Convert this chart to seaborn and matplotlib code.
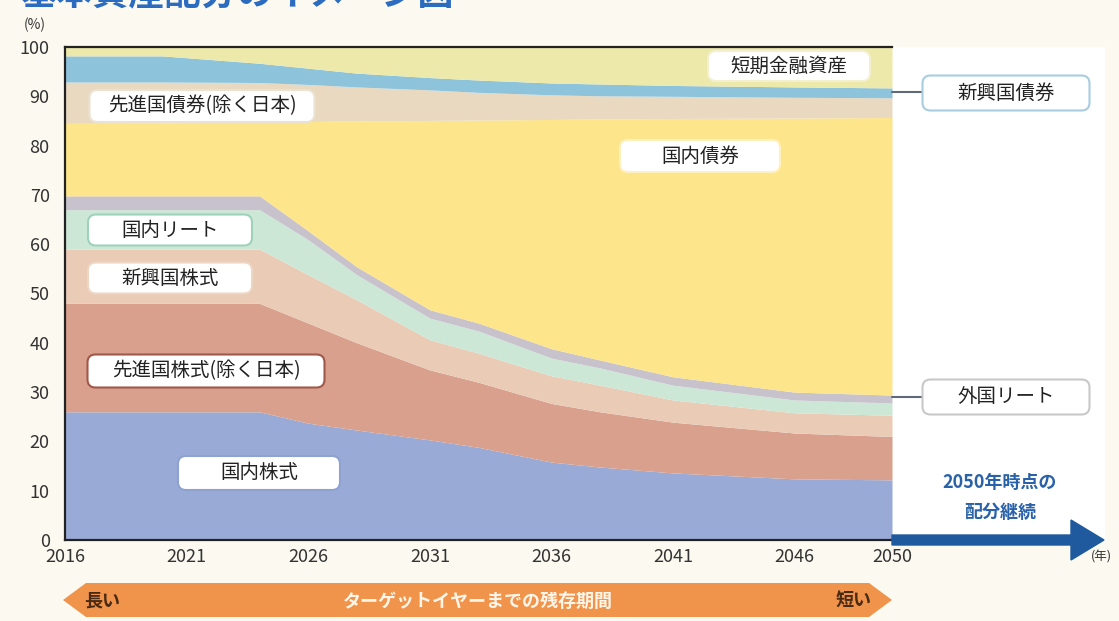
### 基本資産配分のイメージ図 ###
import matplotlib
matplotlib.use("Agg")
import matplotlib.pyplot as plt
from matplotlib.patches import FancyBboxPatch, Polygon, FancyArrow, Rectangle
from matplotlib.lines import Line2D
import seaborn as sns

# values (%)
years = [2016, 2020, 2024, 2026, 2028, 2031, 2033, 2036, 2038, 2041, 2046, 2050]
kokunai_kabu = [26.0, 26.0, 26.0, 23.7, 22.3, 20.3, 18.8, 15.8, 14.8, 13.6, 12.4, 12.2]
senshin_kabu = [22.0, 22.0, 22.0, 20.3, 17.7, 14.2, 13.2, 11.9, 11.2, 10.3, 9.3, 8.8]
shinko_kabu = [11.0, 11.0, 11.0, 9.8, 8.7, 6.1, 5.9, 5.6, 5.4, 4.5, 4.1, 4.3]
kokunai_reit = [8.0, 8.0, 8.0, 7.1, 5.1, 4.4, 4.5, 3.6, 3.5, 3.0, 2.6, 2.5]
gaikoku_reit = [2.8, 2.8, 2.8, 1.8, 1.6, 1.7, 1.6, 1.9, 1.6, 1.7, 1.6, 1.6]
kokunai_sai = [14.7, 14.8, 15.0, 22.2, 29.6, 38.4, 41.2, 46.5, 48.9, 52.4, 55.6, 56.3]
senshin_sai = [8.4, 8.3, 8.0, 7.5, 6.9, 6.2, 5.6, 5.0, 4.7, 4.5, 4.2, 4.0]
shinko_sai = [5.3, 5.3, 3.9, 3.3, 2.8, 2.5, 2.5, 2.4, 2.4, 2.2, 2.1, 2.0]
tanki = [1.8, 1.8, 3.3, 4.3, 5.3, 6.2, 6.7, 7.3, 7.5, 7.8, 8.1, 8.3]

layers = [kokunai_kabu, senshin_kabu, shinko_kabu, kokunai_reit, gaikoku_reit,
          kokunai_sai, senshin_sai, shinko_sai, tanki]
colors = ["#98aad5", "#d9a08d", "#e9cbb6", "#cde7d6", "#c8c2cc",
          "#fde58c", "#e9d9c1", "#8dc4dc", "#ece9aa"]

xticks = [2016, 2021, 2026, 2031, 2036, 2041, 2046, 2050]
yticks = list(range(0, 101, 10))

W, H = 1119, 621
BG = "#fbf9f0"

sns.set_theme(style="white")
plt.rcParams["font.family"] = ["Noto Sans CJK JP", "DejaVu Sans"]

fig = plt.figure(figsize=(W / 100, H / 100), dpi=100, facecolor=BG)


def inch(x, y):
    # pixel coords (top-left origin) -> inches for dpi_scale_trans
    return x / 100, (H - y) / 100


# white panel right of the plot
x0, y0 = inch(892, 540)
fig.add_artist(Rectangle((x0, y0), (1105 - 892) / 100, (540 - 47) / 100,
                         transform=fig.dpi_scale_trans, fc="white", ec="none", zorder=0))

ax = fig.add_axes([65 / W, 1 - 540 / H, (892 - 65) / W, (540 - 47) / H])
ax.stackplot(years, *layers, colors=colors, linewidth=0)
ax.set_xlim(2016, 2050)
ax.set_ylim(0, 100)
ax.set_xticks(xticks)
ax.set_yticks(yticks)
ax.tick_params(direction="in", length=5, width=1.5, color="#222", labelsize=13,
               labelcolor="#333")
ax.tick_params(axis="y", pad=11)
ax.tick_params(axis="x", pad=6)
sns.despine(ax=ax, right=True, top=False)
for side in ["left", "bottom", "top"]:
    ax.spines[side].set_color("#222")
    ax.spines[side].set_linewidth(1.6)

# title (cut at the top edge as in the source)
fig.text(20 / W, 1 - 5 / H, "基本資産配分のイメージ図", fontsize=26, weight="bold",
         color="#2c6cc0", va="baseline")
fig.text(35 / W, 1 - 25 / H, "(%)", fontsize=10, ha="center", va="center", color="#333")
fig.text(1101 / W, 1 - 557 / H, "(年)", fontsize=9, ha="center", va="center", color="#333")


def label(cx, cy, w, h, text, edge, size=14):
    bx, by = inch(cx - w / 2, cy + h / 2)
    fig.add_artist(FancyBboxPatch((bx, by), w / 100, h / 100,
                                  boxstyle="round,pad=0,rounding_size=0.08",
                                  transform=fig.dpi_scale_trans, fc="white",
                                  ec=edge, lw=1.5, zorder=5))
    fig.text(cx / W, 1 - cy / H, text, fontsize=size, ha="center", va="center",
             color="#222", zorder=6)


label(202, 106, 225, 32, "先進国債券(除く日本)", "#ece2d2")
label(789, 66, 162, 30, "短期金融資産", "#f3efcf")
label(700, 156, 160, 32, "国内債券", "#fff0c0")
label(170, 230, 164, 31, "国内リート", "#9fd2ba")
label(170, 278, 164, 31, "新興国株式", "#eed6c4")
label(206, 371, 237, 33, "先進国株式(除く日本)", "#a0584a")
label(259, 473, 162, 34, "国内株式", "#8ea2d0")
label(1006, 93, 167, 35, "新興国債券", "#a8cde0")
label(1006, 397, 167, 35, "外国リート", "#c8c8c8")

# connector lines to the outside labels
for yy in [92, 397]:
    lx, ly = inch(892, yy)
    fig.add_artist(Line2D([lx, 922 / 100], [ly, ly], transform=fig.dpi_scale_trans,
                          color="#5e6a78", lw=1.5))

# blue arrow: allocation kept after 2050
ax0, ay0 = inch(892, 540)
fig.add_artist(FancyArrow(ax0, ay0, (1104 - 892) / 100, 0, width=0.10, head_width=0.40,
                          head_length=0.33, length_includes_head=True,
                          transform=fig.dpi_scale_trans, color="#1f5a9e", zorder=4))
fig.text(1000 / W, 1 - 482 / H, "2050年時点の", fontsize=13, weight="bold",
         color="#2a62aa", ha="center", va="center")
fig.text(1000 / W, 1 - 512 / H, "配分継続", fontsize=13, weight="bold",
         color="#2a62aa", ha="center", va="center")

# orange double arrow: remaining period to target year
pts = [inch(63, 600), inch(86, 583), inch(869, 583), inch(892, 600),
       inch(869, 617), inch(86, 617)]
fig.add_artist(Polygon(pts, closed=True, transform=fig.dpi_scale_trans,
                       fc="#f0944c", ec="none"))
fig.text(84 / W, 1 - 601 / H, "長い", fontsize=13, weight="bold", color="#4a2a12",
         ha="left", va="center")
fig.text(872 / W, 1 - 601 / H, "短い", fontsize=13, weight="bold", color="#4a2a12",
         ha="right", va="center")
fig.text(478 / W, 1 - 601 / H, "ターゲットイヤーまでの残存期間", fontsize=13,
         weight="bold", color="#fff6ea", ha="center", va="center")

fig.savefig("out.png", dpi=100, facecolor=BG)
